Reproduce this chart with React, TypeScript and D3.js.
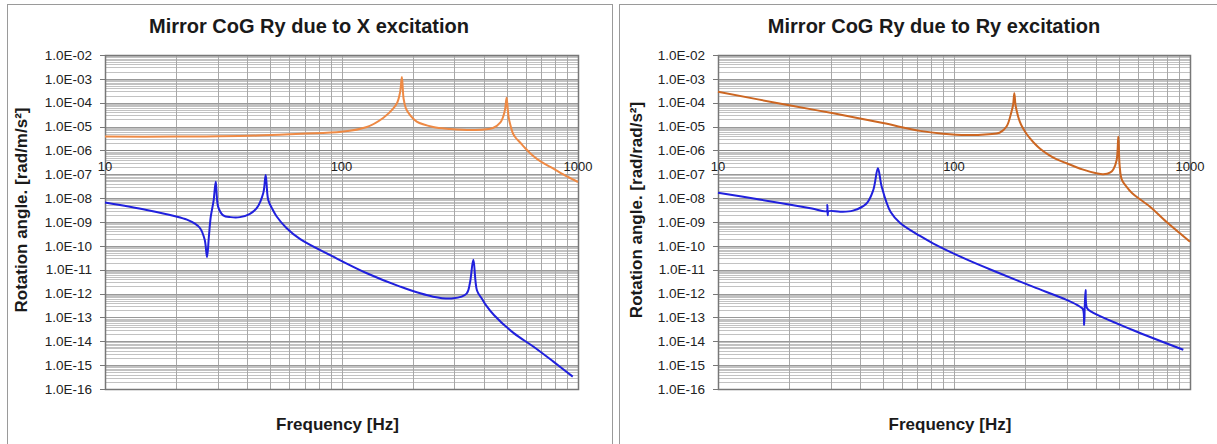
import React from 'react';
import * as d3 from 'd3';

// ---------- data ----------
const chartTitles = ['Mirror CoG Ry due to X excitation', 'Mirror CoG Ry due to Ry excitation'];
const yAxisTitles = ['Rotation angle. [rad/m/s²]', 'Rotation angle. [rad/rad/s²]'];
const xAxisTitle = 'Frequency [Hz]';
const xTickValues = [10, 100, 1000];
const yTickExponents = [-2, -3, -4, -5, -6, -7, -8, -9, -10, -11, -12, -13, -14, -15, -16];

// Left chart (X excitation)
const xOrangeFreq = [10, 20, 30, 44, 67, 100, 128, 150, 165, 172, 177, 180, 183, 187, 195, 208, 244, 287, 359, 437, 470, 482, 492, 499, 505, 510, 516, 523, 531, 545, 569, 596, 645, 700, 784, 898, 1000];
const xOrangeVal = [3.8e-6, 3.8e-6, 3.9e-6, 4.2e-6, 5.0e-6, 6.0e-6, 9.6e-6, 2.3e-5, 5.5e-5, 1.0e-4, 2.8e-4, 1.2e-3, 1.5e-4, 6.0e-5, 3.0e-5, 1.6e-5, 9.6e-6, 8.0e-6, 7.2e-6, 8.7e-6, 1.5e-5, 2.5e-5, 5.5e-5, 1.6e-4, 5.0e-5, 2.2e-5, 1.3e-5, 8.0e-6, 5.1e-6, 3.4e-6, 2.15e-6, 1.3e-6, 6.0e-7, 3.3e-7, 1.75e-7, 8.1e-8, 4.75e-8];
const xBlueFreq = [10, 15, 20, 22.2, 24, 25.2, 26.4, 27.0, 27.5, 28.0, 28.8, 29.4, 30.1, 31.6, 34, 37.2, 41, 43.8, 46.7, 47.8, 49.0, 51, 53.2, 58.5, 66.9, 92.3, 128, 177, 244, 297, 338, 349, 361, 374, 393, 408, 441, 535, 649, 787, 950];
const xBlueVal = [6.5e-9, 3.2e-9, 1.7e-9, 1.25e-9, 8.5e-10, 5.6e-10, 1.8e-10, 3.4e-11, 2.5e-10, 1.66e-9, 8e-9, 4.9e-8, 4.3e-9, 1.9e-9, 1.6e-9, 1.6e-9, 2.2e-9, 3.8e-9, 1.65e-8, 9.3e-8, 8.3e-9, 3.5e-9, 1.7e-9, 5.6e-10, 1.9e-10, 3.5e-11, 7.1e-12, 1.96e-12, 7.4e-13, 6.3e-13, 1.0e-12, 2.7e-12, 2.6e-11, 1.35e-12, 5.9e-13, 3.3e-13, 1.27e-13, 2.2e-14, 5.9e-15, 1.4e-15, 3.3e-16];

// Right chart (Ry excitation)
const ryOrangeFreq = [10, 20, 30.8, 50, 71.8, 90, 113, 140, 156, 167, 175, 178, 180.1, 182, 184.4, 190, 195, 203, 210, 220, 231, 250, 270, 300, 350, 401, 429, 460, 473, 489, 497, 503, 514, 540, 569, 620, 677, 796, 1000];
const ryOrangeVal = [2.9e-4, 7.8e-5, 3.6e-5, 1.4e-5, 6.6e-6, 5.0e-6, 4.4e-6, 4.8e-6, 5.5e-6, 1.0e-5, 4.0e-5, 8.0e-5, 2.5e-4, 9.0e-5, 4.5e-5, 1.6e-5, 9.3e-6, 4.9e-6, 3.2e-6, 1.9e-6, 1.2e-6, 6.8e-7, 4.4e-7, 2.9e-7, 1.6e-7, 1.1e-7, 1.0e-7, 1.2e-7, 1.6e-7, 4.0e-7, 3.8e-6, 2.5e-7, 6.0e-8, 2.9e-8, 1.6e-8, 8.3e-9, 4.4e-9, 1.0e-9, 1.5e-10];
const ryBlueFreq = [10, 15, 20, 25, 28.9, 29.05, 29.15, 29.4, 33, 37.3, 42.6, 45.5, 47.6, 49.4, 53.9, 59.1, 71.8, 81.8, 113, 156, 217, 300, 342, 352, 356, 358, 361, 366, 383, 575, 937];
const ryBlueVal = [1.7e-8, 8.7e-9, 5.4e-9, 3.7e-9, 2.9e-9, 5.2e-9, 1.9e-9, 2.8e-9, 2.7e-9, 3.0e-9, 6.0e-9, 2.2e-8, 1.78e-7, 3.0e-8, 2.6e-9, 9.1e-10, 2.6e-10, 1.25e-10, 2.7e-11, 7.1e-12, 1.9e-12, 5.4e-13, 2.8e-13, 2.2e-13, 4.8e-14, 2.5e-13, 1.4e-12, 2.5e-13, 1.7e-13, 2.9e-14, 4.4e-15];

// ---------- drawing ----------
const W = 1217;
const H = 444;
const FONT = '"Liberation Sans", Arial, sans-serif';

type Pt = { f: number; v: number };
const zip = (fs: number[], vs: number[]): Pt[] => fs.map((f, i) => ({ f, v: vs[i] }));

function yLabel(e: number) {
  return `1.0E-${String(-e).padStart(2, '0')}`;
}

function Chart(props: {
  frameX: number;
  frameW: number;
  plotL: number;
  plotR: number;
  title: string;
  titleX: number;
  yTitle: string;
  yTitleX: number;
  orange: Pt[];
  blue: Pt[];
  orangeColor: string;
}) {
  const { frameX, frameW, plotL, plotR, title, titleX, yTitle, yTitleX, orange, blue, orangeColor } = props;
  const plotT = 55;
  const plotB = 389;
  const x = d3.scaleLog().domain([10, 1000]).range([plotL, plotR]);
  const y = d3.scaleLog().domain([1e-16, 1e-2]).range([plotB, plotT]);

  const vLines: { v: number; major: boolean }[] = [];
  [10, 100].forEach((d) => {
    for (let k = 1; k <= 9; k++) vLines.push({ v: k * d, major: k === 1 });
  });
  vLines.push({ v: 1000, major: true });

  const hLines: { v: number; major: boolean }[] = [];
  for (let e = -16; e <= -3; e++) {
    for (let k = 1; k <= 9; k++) hLines.push({ v: k * Math.pow(10, e), major: k === 1 });
  }
  hLines.push({ v: 1e-2, major: true });

  const line = d3
    .line<Pt>()
    .x((d) => x(d.f))
    .y((d) => y(d.v))
    .curve(d3.curveCatmullRom.alpha(0.5));

  const px = (v: number) => Math.round(v) + 0.5;
  const axisY = y(1e-6);

  return (
    <g>
      <rect x={frameX + 0.5} y={4.5} width={frameW} height={H + 20} fill="#fff" stroke="#9a9a9a" strokeWidth={1} />
      <text x={titleX} y={33} textAnchor="middle" fontFamily={FONT} fontWeight="bold" fontSize={20} fill="#1a1a1a">
        {title}
      </text>
      <rect x={plotL} y={plotT} width={plotR - plotL} height={plotB - plotT} fill="#fff" />
      {hLines.filter((d) => !d.major).map((d, i) => (
        <line key={'hm' + i} x1={plotL} x2={plotR} y1={px(y(d.v))} y2={px(y(d.v))} stroke="#c2c2c2" strokeWidth={1} />
      ))}
      {vLines.map((d, i) => (
        <line key={'v' + i} x1={px(x(d.v))} x2={px(x(d.v))} y1={plotT} y2={plotB} stroke="#a8a8a8" strokeWidth={1} />
      ))}
      {hLines.filter((d) => d.major).map((d, i) => (
        <line key={'hM' + i} x1={plotL} x2={plotR} y1={px(y(d.v))} y2={px(y(d.v))} stroke="#999" strokeWidth={1} />
      ))}
      <rect x={plotL + 0.5} y={plotT + 0.5} width={plotR - plotL} height={plotB - plotT} fill="none" stroke="#777" strokeWidth={1.5} />
      <line x1={plotL} x2={plotR} y1={px(axisY)} y2={px(axisY)} stroke="#858585" strokeWidth={1} />
      {yTickExponents.map((e) => {
        const yy = y(Math.pow(10, e));
        return (
          <g key={'yt' + e}>
            <line x1={plotL - 5} x2={plotL} y1={px(yy)} y2={px(yy)} stroke="#777" strokeWidth={1} />
            <text x={plotL - 13} y={yy} dy="0.35em" textAnchor="end" fontFamily={FONT} fontSize={13.5} fill="#222">
              {yLabel(e)}
            </text>
          </g>
        );
      })}
      {xTickValues.map((f) => (
        <text key={'xt' + f} x={x(f)} y={171} textAnchor="middle" fontFamily={FONT} fontSize={13} fill="#222">
          {String(f)}
        </text>
      ))}
      <path d={line(orange) || ''} fill="none" stroke={orangeColor} strokeWidth={2} strokeLinejoin="round" />
      <path d={line(blue) || ''} fill="none" stroke="#2020dd" strokeWidth={2} strokeLinejoin="round" />
      <text
        transform={`translate(${yTitleX},210) rotate(-90)`}
        textAnchor="middle"
        dy="0.35em"
        fontFamily={FONT}
        fontWeight="bold"
        fontSize={17}
        fill="#1a1a1a"
      >
        {yTitle}
      </text>
      <text x={(plotL + plotR) / 2 - 4} y={430} textAnchor="middle" fontFamily={FONT} fontWeight="bold" fontSize={17} fill="#1a1a1a">
        {xAxisTitle}
      </text>
    </g>
  );
}

export default function App() {
  return (
    <svg width={W} height={H} style={{ position: 'absolute', left: 0, top: 0, background: '#fff' }}>
      <rect x={0} y={0} width={W} height={H} fill="#fff" />
      <Chart
        frameX={7}
        frameW={605}
        plotL={105}
        plotR={578}
        title={chartTitles[0]}
        titleX={309}
        yTitle={yAxisTitles[0]}
        yTitleX={21}
        orange={zip(xOrangeFreq, xOrangeVal)}
        blue={zip(xBlueFreq, xBlueVal)}
        orangeColor="#ee8a45"
      />
      <Chart
        frameX={619}
        frameW={640}
        plotL={718}
        plotR={1190}
        title={chartTitles[1]}
        titleX={934}
        yTitle={yAxisTitles[1]}
        yTitleX={636}
        orange={zip(ryOrangeFreq, ryOrangeVal)}
        blue={zip(ryBlueFreq, ryBlueVal)}
        orangeColor="#cc6622"
      />
    </svg>
  );
}
